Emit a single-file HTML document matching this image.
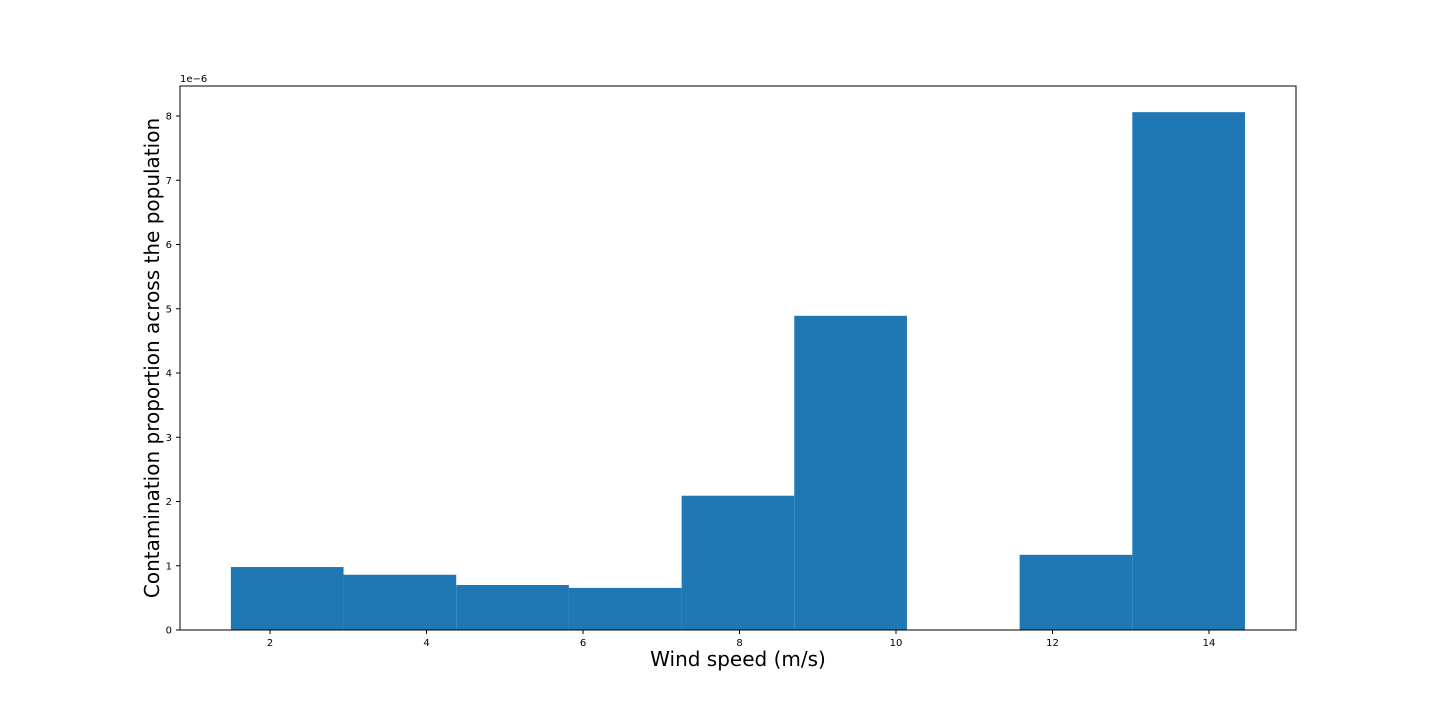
<!DOCTYPE html>
<html><head><meta charset="utf-8"><style>
html,body{margin:0;padding:0;background:#fff;}
svg{display:block;font-family:"DejaVu Sans","Liberation Sans",sans-serif;}
</style></head><body>
<svg id="chart" width="1440" height="720">
<rect x="0" y="0" width="1440" height="720" fill="#fff"/>
<g id="bars"></g><g id="xticks"></g><g id="yticks"></g>
<rect x="180" y="86" width="1116" height="544" fill="none" stroke="#000" stroke-width="1"/>
<text x="180" y="82" font-size="10">1e−6</text>
<text x="738" y="666" font-size="20" text-anchor="middle">Wind speed (m/s)</text>
<text transform="translate(159,358) rotate(-90)" font-size="20" text-anchor="middle">Contamination proportion across the population</text>
</svg>
<script>
const binStarts=[1.5,2.94,4.38,5.82,7.26,8.7,10.14,11.58,13.02];
const binWidth=1.44;
const values=[0.98,0.86,0.70,0.655,2.09,4.89,0,1.17,8.06];
const xTicks=[2,4,6,8,10,12,14];
const yTicks=[0,1,2,3,4,5,6,7,8];
const NS='http://www.w3.org/2000/svg';
function xs(v){return 113.5+v*78.25;}
function ys(v){return 630-v*64.25;}
const bars=document.getElementById('bars');
binStarts.forEach((s,i)=>{
  if(values[i]<=0)return;
  const r=document.createElementNS(NS,'rect');
  r.setAttribute('x',xs(s));r.setAttribute('width',xs(s+binWidth)-xs(s));
  r.setAttribute('y',ys(values[i]));r.setAttribute('height',ys(0)-ys(values[i]));
  r.setAttribute('fill','#1f77b4');
  
  
  bars.appendChild(r);
});
const xt=document.getElementById('xticks');
xTicks.forEach(t=>{
  const l=document.createElementNS(NS,'line');
  l.setAttribute('x1',xs(t));l.setAttribute('x2',xs(t));l.setAttribute('y1',630);l.setAttribute('y2',634);l.setAttribute('stroke','#000');
  
  
  xt.appendChild(l);
  const tx=document.createElementNS(NS,'text');
  tx.setAttribute('x',xs(t));tx.setAttribute('y',646);tx.setAttribute('font-size','10');tx.setAttribute('text-anchor','middle');
  tx.textContent=t;
  
  
  xt.appendChild(tx);
});
const yt=document.getElementById('yticks');
yTicks.forEach(t=>{
  const l=document.createElementNS(NS,'line');
  l.setAttribute('x1',176);l.setAttribute('x2',180);l.setAttribute('y1',ys(t));l.setAttribute('y2',ys(t));l.setAttribute('stroke','#000');
  
  
  yt.appendChild(l);
  const tx=document.createElementNS(NS,'text');
  tx.setAttribute('x',172);tx.setAttribute('y',ys(t)+3.5);tx.setAttribute('font-size','10');tx.setAttribute('text-anchor','end');
  tx.textContent=t;
  
  
  yt.appendChild(tx);
});
</script>
</body></html>
